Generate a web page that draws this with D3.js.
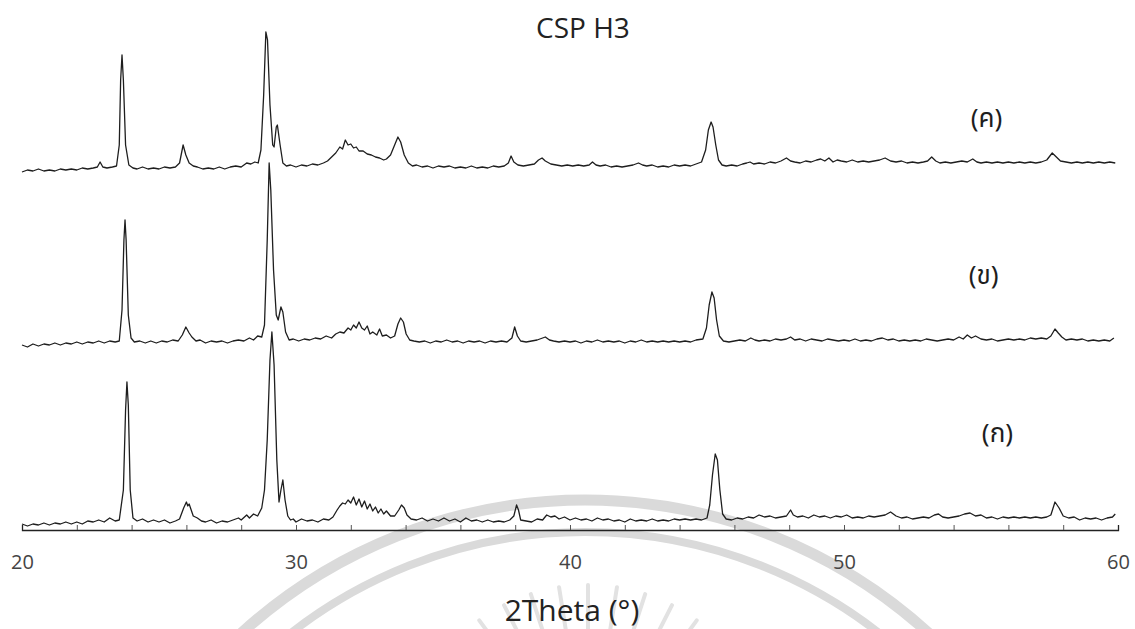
<!DOCTYPE html>
<html>
<head>
<meta charset="utf-8">
<script src="https://cdn.jsdelivr.net/npm/d3@7/dist/d3.min.js"></script>
<style>
  body { margin: 0; background: #fff; }
  svg { display: block; font-family: "Open Sans", "Noto Sans", "DejaVu Sans", sans-serif; }
</style>
</head>
<body>
<div id="chart"></div>
<script>
// labels of the three patterns, bottom to top
var sampleNames = ["(ก)", "(ข)", "(ค)"];
// vertical shift of each pattern (same units as intensity)
var stackOffset = [0, 180, 355];
var xTicks = [20, 30, 40, 50, 60];

// [2theta, intensity]
var patternA = [
  [20.0,6],[20.2,4],[20.4,6],[20.6,5],[20.8,7],[21.0,5],[21.2,7],[21.4,6],[21.6,8],[21.8,6],
  [22.0,8],[22.2,6],[22.4,9],[22.6,8],[22.8,10],[23.0,8],[23.2,12],[23.4,9],[23.55,10],[23.7,40],
  [23.78,120],[23.83,148],[23.88,125],[23.95,40],[24.05,12],[24.2,9],[24.4,11],[24.6,8],[24.8,10],[25.0,8],
  [25.2,10],[25.4,7],[25.6,9],[25.75,11],[25.9,22],[26.0,28],[26.05,24],[26.1,26],[26.25,14],[26.4,12],
  [26.55,9],[26.7,8],[26.9,10],[27.1,7],[27.3,9],[27.5,8],[27.7,10],[27.9,12],[28.0,10],[28.2,15],
  [28.3,12],[28.45,16],[28.6,14],[28.75,22],[28.85,40],[28.95,90],[29.05,170],[29.12,198],[29.2,165],[29.3,70],
  [29.38,28],[29.45,40],[29.52,50],[29.6,30],[29.7,14],[29.8,10],[29.9,11],[30.0,8],[30.2,11],[30.4,9],
  [30.6,10],[30.8,8],[31.0,11],[31.2,10],[31.35,13],[31.5,20],[31.6,24],[31.7,27],[31.8,26],[31.9,30],
  [32.0,27],[32.1,33],[32.2,25],[32.3,31],[32.4,23],[32.5,29],[32.6,21],[32.7,26],[32.8,19],[32.9,23],
  [33.0,17],[33.1,21],[33.2,16],[33.3,19],[33.45,14],[33.6,14],[33.75,20],[33.85,25],[33.95,22],[34.05,15],
  [34.2,11],[34.4,10],[34.6,12],[34.8,9],[35.0,11],[35.2,9],[35.4,12],[35.6,9],[35.8,11],[36.0,8],
  [36.2,12],[36.4,9],[36.6,10],[36.8,8],[37.0,10],[37.2,8],[37.4,9],[37.6,8],[37.8,10],[37.95,14],
  [38.05,25],[38.12,20],[38.2,10],[38.4,9],[38.6,8],[38.8,11],[39.0,10],[39.15,15],[39.3,13],[39.45,14],
  [39.6,11],[39.8,13],[40.0,10],[40.2,12],[40.4,10],[40.6,11],[40.8,9],[41.0,12],[41.2,10],[41.4,11],
  [41.6,9],[41.8,10],[42.0,8],[42.2,11],[42.4,9],[42.6,10],[42.8,9],[43.0,11],[43.2,9],[43.4,10],
  [43.6,9],[43.8,11],[44.0,10],[44.2,11],[44.4,10],[44.6,11],[44.8,10],[45.0,12],[45.1,25],[45.2,55],
  [45.3,76],[45.38,70],[45.47,40],[45.57,16],[45.7,11],[45.9,10],[46.1,12],[46.3,11],[46.5,13],[46.7,12],
  [46.9,15],[47.1,13],[47.3,14],[47.5,12],[47.7,13],[47.9,14],[48.05,20],[48.15,15],[48.3,13],[48.5,14],
  [48.7,12],[48.9,15],[49.1,13],[49.3,14],[49.5,12],[49.7,14],[49.9,13],[50.1,15],[50.3,12],[50.5,13],
  [50.7,12],[50.9,14],[51.1,13],[51.3,14],[51.5,15],[51.7,18],[51.9,14],[52.1,12],[52.3,13],[52.5,11],
  [52.7,12],[52.9,13],[53.1,12],[53.3,15],[53.45,16],[53.6,13],[53.8,12],[54.0,13],[54.2,14],[54.4,16],
  [54.6,17],[54.8,14],[55.0,15],[55.2,12],[55.4,13],[55.6,11],[55.8,13],[56.0,12],[56.2,13],[56.4,12],
  [56.6,13],[56.8,12],[57.0,13],[57.2,12],[57.4,13],[57.55,15],[57.7,28],[57.85,22],[58.0,14],[58.2,12],
  [58.4,13],[58.6,10],[58.8,12],[59.0,11],[59.2,12],[59.4,10],[59.6,12],[59.8,13],[59.9,16]
];

var patternB = [
  [20.0,5],[20.2,3],[20.4,6],[20.6,4],[20.8,6],[21.0,5],[21.2,7],[21.4,5],[21.6,7],[21.8,6],
  [22.0,8],[22.2,6],[22.4,8],[22.6,7],[22.8,9],[23.0,7],[23.2,9],[23.4,8],[23.55,9],[23.65,40],
  [23.72,110],[23.76,130],[23.8,110],[23.88,35],[23.98,12],[24.1,8],[24.3,9],[24.5,7],[24.7,9],[24.9,7],
  [25.1,9],[25.3,8],[25.5,10],[25.7,9],[25.85,15],[25.98,23],[26.1,17],[26.2,13],[26.35,9],[26.5,10],
  [26.7,7],[26.9,9],[27.1,8],[27.3,9],[27.5,7],[27.7,9],[27.9,10],[28.1,9],[28.3,12],[28.45,10],
  [28.6,14],[28.75,13],[28.85,25],[28.95,110],[29.02,187],[29.08,160],[29.18,80],[29.28,35],[29.35,30],[29.45,43],
  [29.52,38],[29.62,18],[29.75,10],[29.9,11],[30.1,9],[30.3,11],[30.5,10],[30.7,12],[30.9,11],[31.1,14],
  [31.3,12],[31.45,16],[31.6,18],[31.75,17],[31.9,22],[32.0,20],[32.1,25],[32.2,22],[32.3,28],[32.4,22],
  [32.5,20],[32.6,24],[32.7,16],[32.8,18],[32.95,15],[33.05,21],[33.15,14],[33.3,15],[33.45,12],[33.6,14],
  [33.72,26],[33.82,32],[33.92,28],[34.02,16],[34.15,10],[34.3,9],[34.5,8],[34.7,9],[34.9,7],[35.1,9],
  [35.3,8],[35.5,10],[35.7,8],[35.9,9],[36.1,7],[36.3,9],[36.5,8],[36.7,9],[36.9,7],[37.1,9],
  [37.3,8],[37.5,9],[37.7,8],[37.88,12],[37.98,23],[38.08,14],[38.2,9],[38.4,8],[38.6,9],[38.8,10],
  [39.0,12],[39.1,13],[39.25,10],[39.4,9],[39.6,8],[39.8,9],[40.0,8],[40.2,9],[40.4,7],[40.6,9],
  [40.8,8],[41.0,10],[41.2,8],[41.4,9],[41.6,8],[41.8,9],[42.0,7],[42.2,9],[42.4,8],[42.6,10],
  [42.8,8],[43.0,9],[43.2,8],[43.4,9],[43.6,8],[43.8,9],[44.0,8],[44.2,9],[44.4,8],[44.6,10],
  [44.85,11],[44.98,22],[45.08,45],[45.18,58],[45.26,52],[45.35,30],[45.45,14],[45.6,9],[45.8,8],[46.0,9],
  [46.2,10],[46.4,9],[46.6,12],[46.75,10],[46.9,9],[47.1,10],[47.3,9],[47.5,11],[47.7,10],[47.9,11],
  [48.05,13],[48.2,10],[48.4,11],[48.6,9],[48.8,11],[49.0,10],[49.2,9],[49.4,11],[49.6,10],[49.8,9],
  [50.0,10],[50.2,9],[50.4,11],[50.6,9],[50.8,10],[51.0,9],[51.2,11],[51.4,12],[51.6,10],[51.8,11],
  [52.0,9],[52.2,10],[52.4,9],[52.6,10],[52.8,9],[53.0,11],[53.2,10],[53.4,9],[53.6,10],[53.8,11],
  [54.0,10],[54.2,13],[54.35,11],[54.5,15],[54.65,12],[54.8,14],[55.0,11],[55.2,10],[55.4,11],[55.6,9],
  [55.8,10],[56.0,11],[56.2,10],[56.4,11],[56.6,10],[56.8,12],[57.0,11],[57.2,12],[57.4,11],[57.55,14],
  [57.7,21],[57.82,17],[57.95,13],[58.1,10],[58.3,11],[58.5,10],[58.7,11],[58.9,9],[59.1,10],[59.3,9],
  [59.5,10],[59.7,9],[59.85,12]
];

var patternC = [
  [20.0,3],[20.2,5],[20.4,4],[20.6,6],[20.8,4],[21.0,5],[21.2,4],[21.4,6],[21.6,5],[21.8,6],
  [22.0,5],[22.2,7],[22.4,6],[22.6,7],[22.75,8],[22.85,13],[22.95,8],[23.1,7],[23.3,8],[23.45,9],
  [23.55,30],[23.6,95],[23.65,120],[23.7,95],[23.78,30],[23.9,10],[24.05,7],[24.2,6],[24.4,8],[24.6,6],
  [24.8,7],[25.0,6],[25.2,8],[25.4,7],[25.6,8],[25.75,12],[25.88,30],[25.98,20],[26.1,12],[26.25,9],
  [26.4,8],[26.6,6],[26.8,7],[27.0,6],[27.2,8],[27.4,6],[27.6,8],[27.8,9],[28.0,8],[28.2,12],
  [28.35,11],[28.5,13],[28.62,12],[28.72,25],[28.82,80],[28.9,143],[28.96,135],[29.05,70],[29.15,30],[29.2,28],
  [29.28,48],[29.32,50],[29.42,30],[29.52,12],[29.65,9],[29.8,10],[30.0,8],[30.2,10],[30.4,9],[30.6,11],
  [30.8,10],[31.0,12],[31.15,14],[31.3,18],[31.45,22],[31.6,28],[31.7,26],[31.8,35],[31.9,30],[32.0,31],
  [32.1,27],[32.2,28],[32.3,24],[32.45,24],[32.6,21],[32.75,20],[32.9,18],[33.05,17],[33.2,15],[33.3,16],
  [33.45,20],[33.6,30],[33.72,38],[33.82,33],[33.95,20],[34.1,12],[34.25,9],[34.4,10],[34.6,8],[34.8,9],
  [35.0,7],[35.2,9],[35.4,8],[35.6,9],[35.8,7],[36.0,8],[36.2,7],[36.4,9],[36.6,7],[36.8,8],
  [37.0,7],[37.2,9],[37.4,8],[37.6,9],[37.75,12],[37.85,19],[37.95,13],[38.1,10],[38.3,9],[38.5,10],
  [38.7,11],[38.85,15],[38.98,17],[39.1,14],[39.3,11],[39.5,10],[39.7,9],[39.9,10],[40.1,9],[40.3,10],
  [40.5,9],[40.7,10],[40.82,13],[40.95,10],[41.1,9],[41.3,10],[41.5,8],[41.7,9],[41.9,8],[42.1,9],
  [42.3,10],[42.5,12],[42.65,10],[42.8,9],[43.0,10],[43.2,8],[43.4,9],[43.6,8],[43.8,10],[44.0,9],
  [44.2,10],[44.4,9],[44.6,11],[44.8,13],[44.95,25],[45.05,45],[45.15,53],[45.22,48],[45.32,30],[45.42,15],
  [45.55,10],[45.7,9],[45.9,10],[46.1,9],[46.3,11],[46.45,12],[46.57,13],[46.7,11],[46.9,12],[47.1,11],
  [47.3,13],[47.5,12],[47.7,14],[47.9,17],[48.05,14],[48.2,13],[48.4,12],[48.6,14],[48.8,13],[49.0,15],
  [49.15,16],[49.3,14],[49.45,17],[49.6,13],[49.75,15],[49.9,14],[50.1,13],[50.3,15],[50.5,13],[50.7,14],
  [50.9,13],[51.1,14],[51.3,15],[51.5,17],[51.7,14],[51.9,13],[52.1,14],[52.3,12],[52.5,13],[52.7,12],
  [52.9,13],[53.05,14],[53.2,18],[53.35,14],[53.5,12],[53.7,13],[53.9,12],[54.1,13],[54.3,14],[54.5,13],
  [54.7,16],[54.85,13],[55.0,12],[55.2,13],[55.4,12],[55.6,13],[55.8,12],[56.0,13],[56.2,12],[56.4,13],
  [56.6,12],[56.8,13],[57.0,12],[57.2,13],[57.4,15],[57.6,22],[57.75,18],[57.9,14],[58.1,13],[58.3,12],
  [58.5,13],[58.7,12],[58.9,13],[59.1,12],[59.3,13],[59.5,12],[59.7,13],[59.9,12]
];

var patterns = [patternA, patternB, patternC];

var width = 1135,
  height = 629,
  axisY = 530;

var x = d3.scaleLinear().domain([20, 60]).range([22, 1118]);
var y = d3.scaleLinear().domain([0, 530]).range([axisY, 0]);

var svg = d3.select("#chart").append("svg")
  .attr("width", width)
  .attr("height", height);

// faint seal watermark behind the plot
var wm = svg.append("g").attr("fill", "none").attr("stroke", "#dadada");
wm.append("circle").attr("cx", 585).attr("cy", 1010).attr("r", 510).attr("stroke-width", 11);
wm.append("circle").attr("cx", 585).attr("cy", 1010).attr("r", 478).attr("stroke-width", 8);
d3.range(-72, 73, 9).forEach(function(a) {
  var t = a * Math.PI / 180;
  wm.append("line")
    .attr("x1", 588 + 110 * Math.sin(t)).attr("y1", 770 - 110 * Math.cos(t))
    .attr("x2", 588 + 185 * Math.sin(t)).attr("y2", 770 - 185 * Math.cos(t))
    .attr("stroke", "#e2e2e2")
    .attr("stroke-width", 4).attr("stroke-linecap", "round");
});

// patterns
patterns.forEach(function(p, i) {
  var line = d3.line()
    .x(function(d) { return x(d[0]); })
    .y(function(d) { return y(d[1] + stackOffset[i]); });
  svg.append("path")
    .datum(p)
    .attr("d", line)
    .attr("fill", "none")
    .attr("stroke", "#1e1e1e")
    .attr("stroke-width", 1.3)
    .attr("stroke-linejoin", "round");
});

// axis line with small ticks every 2 degrees
var axis = svg.append("g")
  .attr("transform", "translate(0," + axisY + ")")
  .call(d3.axisBottom(x).tickValues(d3.range(22, 60, 2)).tickSize(-5).tickFormat(""));
axis.select(".domain").attr("stroke", "#222").attr("stroke-width", 1.3);
axis.selectAll(".tick line").attr("stroke", "#555");

var labels = svg.append("g")
  .attr("transform", "translate(0," + (axisY + 22) + ")")
  .call(d3.axisBottom(x).tickValues(xTicks).tickSize(0));
labels.select(".domain").remove();
labels.selectAll("text")
  .attr("fill", "#444")
  .style("font-size", "20px")
  .style("font-family", "'Open Sans', sans-serif");

// titles
svg.append("text")
  .attr("x", 583).attr("y", 38)
  .attr("text-anchor", "middle")
  .attr("fill", "#222")
  .style("font-size", "28px")
  .text("CSP H3");

svg.append("text")
  .attr("x", 572).attr("y", 621)
  .attr("text-anchor", "middle")
  .attr("fill", "#222")
  .style("font-size", "30px")
  .text("2Theta (°)");

// sample labels
var labelPos = [[55.6, 88], [55.1, 66], [55.2, 48]];
sampleNames.forEach(function(n, i) {
  svg.append("text")
    .attr("x", x(labelPos[i][0]))
    .attr("y", y(stackOffset[i] + labelPos[i][1]))
    .attr("text-anchor", "middle")
    .attr("fill", "#1e1e1e")
    .style("font-size", "26px")
    .style("font-family", "'Noto Sans Thai', 'Noto Sans', 'DejaVu Sans', sans-serif")
    .text(n);
});
</script>
</body>
</html>
